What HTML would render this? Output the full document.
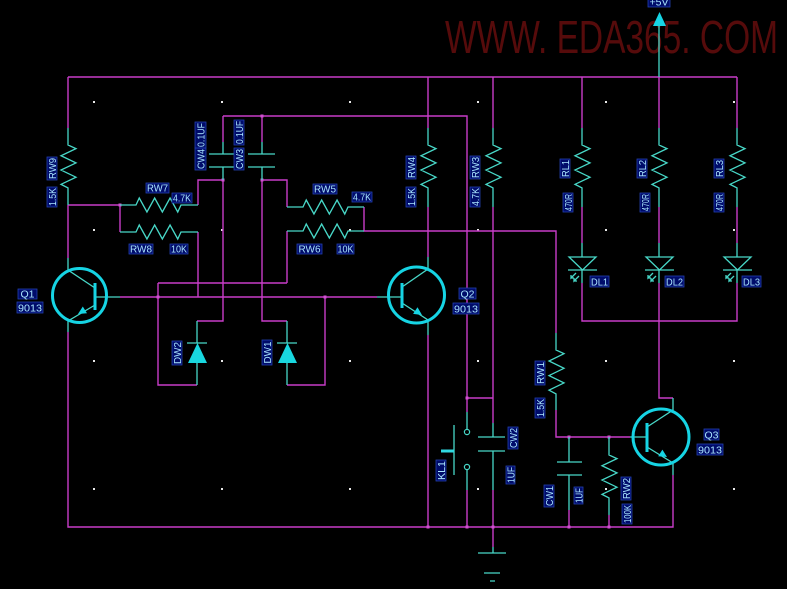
<!DOCTYPE html>
<html><head><meta charset="utf-8"><style>
html,body{margin:0;padding:0;background:#000;}
svg{display:block}
text{font-family:"Liberation Sans",sans-serif;}
.lb rect{fill:#000c6a;stroke:#2440b0;stroke-width:0.8}
.lb text{fill:#a8e4ff;font-size:10.5px}
</style></head><body>
<svg width="787" height="589" viewBox="0 0 787 589" xmlns="http://www.w3.org/2000/svg">
<rect width="787" height="589" fill="#000"/>
<!-- watermark -->
<text x="445" y="53" font-size="46" fill="#560b0b" textLength="333" lengthAdjust="spacingAndGlyphs">WWW. EDA365. COM</text>

<!-- grid dots -->
<g fill="#e8e8e8">
<rect x="93" y="101" width="2" height="2"/><rect x="221" y="101" width="2" height="2"/><rect x="349" y="101" width="2" height="2"/><rect x="477" y="101" width="2" height="2"/><rect x="605" y="101" width="2" height="2"/><rect x="733" y="101" width="2" height="2"/>
<rect x="93" y="229" width="2" height="2"/><rect x="221" y="229" width="2" height="2"/><rect x="349" y="229" width="2" height="2"/><rect x="477" y="229" width="2" height="2"/><rect x="605" y="229" width="2" height="2"/><rect x="733" y="229" width="2" height="2"/>
<rect x="93" y="360" width="2" height="2"/><rect x="221" y="360" width="2" height="2"/><rect x="349" y="360" width="2" height="2"/><rect x="477" y="360" width="2" height="2"/><rect x="605" y="360" width="2" height="2"/><rect x="733" y="360" width="2" height="2"/>
<rect x="93" y="488" width="2" height="2"/><rect x="221" y="488" width="2" height="2"/><rect x="349" y="488" width="2" height="2"/><rect x="477" y="488" width="2" height="2"/><rect x="605" y="488" width="2" height="2"/><rect x="733" y="488" width="2" height="2"/>
</g>

<!-- magenta wires -->
<path fill="none" stroke="#c83cc8" stroke-width="1.4" d="
M68,77 H737
M68,77 V128
M68,205 V258
M68,205 H120 V232
M198,205 V180 H223
M198,232 V297
M120,297 H377
M158,283 H287
M158,283 V385 H197
M223,116 V142
M223,180 V321 H197
M223,116 H467 V398 H493
M262,116 V142
M262,180 H287 V207
M262,180 V321 H287
M287,231 V283
M325,297 V385 H287
M364,207 V231 H556 V333
M467,398 V412
M467,490 V527
M493,77 V128
M493,207 V423
M493,490 V547
M428,77 V128
M428,207 V257
M428,335 V527
M68,332 V527 H673 V475
M556,410 V437 H630
M569,510 V527
M609,515 V527
M582,77 V128
M582,207 V243
M582,283 V321 H737 V283
M737,77 V128
M737,207 V243
M659,77 V128
M659,207 V243
M659,283 V398 H673
"/>

<!-- junction dots -->
<g fill="#d050d0">
<rect x="118.5" y="203.5" width="3" height="3"/><rect x="260.5" y="114.5" width="3" height="3"/><rect x="156.5" y="295.5" width="3" height="3"/><rect x="323.5" y="295.5" width="3" height="3"/><rect x="465.5" y="396.5" width="3" height="3"/><rect x="567.5" y="435.5" width="3" height="3"/><rect x="607.5" y="435.5" width="3" height="3"/><rect x="426.5" y="525.5" width="3" height="3"/><rect x="465.5" y="525.5" width="3" height="3"/><rect x="491.5" y="525.5" width="3" height="3"/><rect x="567.5" y="525.5" width="3" height="3"/><rect x="607.5" y="525.5" width="3" height="3"/><rect x="221.5" y="178.5" width="3" height="3"/><rect x="260.5" y="178.5" width="3" height="3"/>
</g>

<!-- teal component lines -->
<path fill="none" stroke="#48d8c8" stroke-width="1.3" stroke-linejoin="miter" d="
M68,128 V145 l8,3.6 l-15,7.15 l15,7.15 l-15,7.15 l15,7.15 l-15,7.15 l7,3.6 V205
M428,128 V145 l8,3.6 l-15,7.15 l15,7.15 l-15,7.15 l15,7.15 l-15,7.15 l7,3.6 V207
M493,128 V145 l8,3.6 l-15,7.15 l15,7.15 l-15,7.15 l15,7.15 l-15,7.15 l7,3.6 V207
M582,128 V145 l8,3.6 l-15,7.15 l15,7.15 l-15,7.15 l15,7.15 l-15,7.15 l7,3.6 V207
M659,128 V145 l8,3.6 l-15,7.15 l15,7.15 l-15,7.15 l15,7.15 l-15,7.15 l7,3.6 V207
M737,128 V145 l8,3.6 l-15,7.15 l15,7.15 l-15,7.15 l15,7.15 l-15,7.15 l7,3.6 V207
M556,333 V350 l8,3.7 l-15,7.3 l15,7.3 l-15,7.3 l15,7.3 l-15,7.3 l7,3.7 V410
M609,437 V455 l8,3.6 l-15,7.15 l15,7.15 l-15,7.15 l15,7.15 l-15,7.15 l7,3.6 V515
M120,205 H136 l3.25,-7 l7.7,14 l7.7,-14 l7.7,14 l7.7,-14 l7.7,14 l3.25,-7 H198
M120,232 H136 l3.25,-7 l7.7,14 l7.7,-14 l7.7,14 l7.7,-14 l7.7,14 l3.25,-7 H198
M287,207 H303 l3.25,-7 l7.7,14 l7.7,-14 l7.7,14 l7.7,-14 l7.7,14 l3.25,-7 H364
M287,231 H303 l3.25,-7 l7.7,14 l7.7,-14 l7.7,14 l7.7,-14 l7.7,14 l3.25,-7 H364
M659,26 V77
M582,243 V257 M569,257 H596 L582.5,270 Z M568,270 H597 M582,270 V283
M659,243 V257 M646,257 H673 L659.5,270 Z M645,270 H674 M659,270 V283
M737,243 V257 M724,257 H751 L737.5,270 Z M723,270 H752 M737,270 V283
M576,273 l-5,5 l0,-3 m0,3 l3,0 M579,276 l-5,5 l0,-3 m0,3 l3,0
M653,273 l-5,5 l0,-3 m0,3 l3,0 M656,276 l-5,5 l0,-3 m0,3 l3,0
M731,273 l-5,5 l0,-3 m0,3 l3,0 M734,276 l-5,5 l0,-3 m0,3 l3,0
M223,142 V154 M209,154 H235 M209,167 H235 M223,167 V180
M262,142 V154 M248,154 H275 M248,167 H275 M262,167 V180
M493,423 V437 M478,437 H505 M478,451 H505 M493,451 V490
M569,437 V462 M557,462 H582 M557,475 H582 M569,475 V510
M197,385 V363 M197,343 V321 M187,343 H207
M287,385 V363 M287,343 V321 M277,343 H297
M467,412 V429.5 M467,469.5 V490 M454,425 V475
M493,547 V553 M478,553 H506 M484,573 H500 M490,581 H495
M95,297 H120 M377,297 H402 M630,437 H647
M95,288 L68,270 V258 M95,305 L68,321 V332
M402,287 L428,269 V257 M402,303 L428,320 V335
M647,427 L673,410 V398 M647,447 L673,463 V475
"/>
<circle cx="467" cy="432" r="2.6" fill="none" stroke="#48d8c8" stroke-width="1.2"/>
<circle cx="467" cy="467" r="2.6" fill="none" stroke="#48d8c8" stroke-width="1.2"/>
<path d="M441,451 H454" stroke="#30d8e0" stroke-width="3"/>

<!-- diodes filled -->
<polygon points="188,363 207,363 197.5,343" fill="#18d8e0"/>
<polygon points="278,363 297,363 287.5,343" fill="#18d8e0"/>

<!-- transistors -->
<g fill="none" stroke="#16d4e4" stroke-width="3">
<circle cx="79.5" cy="295.5" r="27"/>
<circle cx="416.5" cy="295" r="28"/>
<circle cx="661" cy="437" r="28"/>
<path d="M95,283 V310 M402,283 V308 M647,423 V452"/>
</g>
<g fill="#16d4e4">
<polygon points="78,314 87,313.3 82.8,306.5"/>
<polygon points="422,315 413.1,313.9 417.5,307.3"/>
<polygon points="667,457 658.2,456.2 662.4,449.6"/>
<polygon points="659.5,12 653,26 666,26"/>
</g>

<!-- horizontal labels -->
<g class="lb">
<rect x="18" y="289" width="19" height="10"/><text x="27.5" y="297.5" text-anchor="middle">Q1</text>
<rect x="17" y="302" width="26" height="11"/><text x="30" y="311.5" text-anchor="middle" textLength="24" lengthAdjust="spacingAndGlyphs">9013</text>
<rect x="459" y="288" width="17" height="11"/><text x="467.5" y="297.5" text-anchor="middle">Q2</text>
<rect x="453" y="303" width="26" height="11"/><text x="466" y="312.5" text-anchor="middle" textLength="24" lengthAdjust="spacingAndGlyphs">9013</text>
<rect x="704" y="429" width="15" height="11"/><text x="711.5" y="438.5" text-anchor="middle">Q3</text>
<rect x="697" y="444" width="26" height="11"/><text x="710" y="453.5" text-anchor="middle" textLength="24" lengthAdjust="spacingAndGlyphs">9013</text>
<rect x="146" y="183" width="23" height="10"/><text x="157.5" y="191.5" text-anchor="middle" textLength="21" lengthAdjust="spacingAndGlyphs">RW7</text>
<rect x="172" y="193" width="20" height="10"/><text x="182" y="201.5" text-anchor="middle" textLength="18" lengthAdjust="spacingAndGlyphs">4.7K</text>
<rect x="129" y="244" width="24" height="10"/><text x="141" y="252.5" text-anchor="middle" textLength="22" lengthAdjust="spacingAndGlyphs">RW8</text>
<rect x="170" y="244" width="18" height="10"/><text x="179" y="252.5" text-anchor="middle" textLength="16" lengthAdjust="spacingAndGlyphs">10K</text>
<rect x="313" y="184" width="24" height="10"/><text x="325" y="192.5" text-anchor="middle" textLength="22" lengthAdjust="spacingAndGlyphs">RW5</text>
<rect x="352" y="192" width="20" height="10"/><text x="362" y="200.5" text-anchor="middle" textLength="18" lengthAdjust="spacingAndGlyphs">4.7K</text>
<rect x="297" y="244" width="25" height="10"/><text x="309.5" y="252.5" text-anchor="middle" textLength="22" lengthAdjust="spacingAndGlyphs">RW6</text>
<rect x="337" y="244" width="17" height="10"/><text x="345.5" y="252.5" text-anchor="middle" textLength="16" lengthAdjust="spacingAndGlyphs">10K</text>
<rect x="590" y="276" width="19" height="11"/><text x="599.5" y="285.5" text-anchor="middle" textLength="17" lengthAdjust="spacingAndGlyphs">DL1</text>
<rect x="665" y="276" width="19" height="11"/><text x="674.5" y="285.5" text-anchor="middle" textLength="17" lengthAdjust="spacingAndGlyphs">DL2</text>
<rect x="742" y="276" width="19" height="11"/><text x="751.5" y="285.5" text-anchor="middle" textLength="17" lengthAdjust="spacingAndGlyphs">DL3</text>
<rect x="648" y="-3" width="22" height="10"/><text x="659" y="5.5" text-anchor="middle" textLength="19" lengthAdjust="spacingAndGlyphs">+5V</text>
</g>

<!-- rotated labels -->
<g class="lb">
<rect x="47" y="157" width="10" height="23"/><text transform="translate(52,168.5) rotate(-90)" y="4" text-anchor="middle" textLength="21" lengthAdjust="spacingAndGlyphs">RW9</text>
<rect x="47" y="187" width="10" height="20"/><text transform="translate(52,197) rotate(-90)" y="4" text-anchor="middle" textLength="18" lengthAdjust="spacingAndGlyphs">1.5K</text>
<rect x="195" y="148" width="11" height="22"/><text transform="translate(200.5,159) rotate(-90)" y="4" text-anchor="middle" textLength="20" lengthAdjust="spacingAndGlyphs">CW4</text>
<rect x="195" y="122" width="11" height="26"/><text transform="translate(200.5,135) rotate(-90)" y="4" text-anchor="middle" textLength="24" lengthAdjust="spacingAndGlyphs">0.1UF</text>
<rect x="234" y="148" width="10" height="22"/><text transform="translate(239,159) rotate(-90)" y="4" text-anchor="middle" textLength="20" lengthAdjust="spacingAndGlyphs">CW3</text>
<rect x="234" y="120" width="10" height="25"/><text transform="translate(239,132.5) rotate(-90)" y="4" text-anchor="middle" textLength="23" lengthAdjust="spacingAndGlyphs">0.1UF</text>
<rect x="406" y="156" width="10" height="23"/><text transform="translate(411,167.5) rotate(-90)" y="4" text-anchor="middle" textLength="21" lengthAdjust="spacingAndGlyphs">RW4</text>
<rect x="406" y="187" width="10" height="20"/><text transform="translate(411,197) rotate(-90)" y="4" text-anchor="middle" textLength="18" lengthAdjust="spacingAndGlyphs">1.5K</text>
<rect x="470" y="156" width="10" height="23"/><text transform="translate(475,167.5) rotate(-90)" y="4" text-anchor="middle" textLength="21" lengthAdjust="spacingAndGlyphs">RW3</text>
<rect x="470" y="187" width="10" height="20"/><text transform="translate(475,197) rotate(-90)" y="4" text-anchor="middle" textLength="18" lengthAdjust="spacingAndGlyphs">4.7K</text>
<rect x="560" y="159" width="10" height="19"/><text transform="translate(565,168.5) rotate(-90)" y="4" text-anchor="middle" textLength="17" lengthAdjust="spacingAndGlyphs">RL1</text>
<rect x="563" y="193" width="10" height="19"/><text transform="translate(568,202.5) rotate(-90)" y="4" text-anchor="middle" textLength="17" lengthAdjust="spacingAndGlyphs">470R</text>
<rect x="637" y="159" width="10" height="19"/><text transform="translate(642,168.5) rotate(-90)" y="4" text-anchor="middle" textLength="17" lengthAdjust="spacingAndGlyphs">RL2</text>
<rect x="640" y="193" width="10" height="19"/><text transform="translate(645,202.5) rotate(-90)" y="4" text-anchor="middle" textLength="17" lengthAdjust="spacingAndGlyphs">470R</text>
<rect x="714" y="159" width="10" height="19"/><text transform="translate(719,168.5) rotate(-90)" y="4" text-anchor="middle" textLength="17" lengthAdjust="spacingAndGlyphs">RL3</text>
<rect x="714" y="193" width="10" height="19"/><text transform="translate(719,202.5) rotate(-90)" y="4" text-anchor="middle" textLength="17" lengthAdjust="spacingAndGlyphs">470R</text>
<rect x="172" y="341" width="10" height="24"/><text transform="translate(177,353) rotate(-90)" y="4" text-anchor="middle" textLength="22" lengthAdjust="spacingAndGlyphs">DW2</text>
<rect x="262" y="340" width="10" height="25"/><text transform="translate(267,352.5) rotate(-90)" y="4" text-anchor="middle" textLength="22" lengthAdjust="spacingAndGlyphs">DW1</text>
<rect x="535" y="361" width="10" height="24"/><text transform="translate(540,373) rotate(-90)" y="4" text-anchor="middle" textLength="22" lengthAdjust="spacingAndGlyphs">RW1</text>
<rect x="535" y="398" width="10" height="20"/><text transform="translate(540,408) rotate(-90)" y="4" text-anchor="middle" textLength="18" lengthAdjust="spacingAndGlyphs">1.5K</text>
<rect x="436" y="460" width="10" height="21"/><text transform="translate(441,470.5) rotate(-90)" y="4" text-anchor="middle" textLength="19" lengthAdjust="spacingAndGlyphs">KL1</text>
<rect x="508" y="427" width="10" height="22"/><text transform="translate(513,438) rotate(-90)" y="4" text-anchor="middle" textLength="20" lengthAdjust="spacingAndGlyphs">CW2</text>
<rect x="506" y="466" width="9" height="18"/><text transform="translate(510.5,475) rotate(-90)" y="4" text-anchor="middle" textLength="16" lengthAdjust="spacingAndGlyphs">1UF</text>
<rect x="544" y="485" width="10" height="22"/><text transform="translate(549,496) rotate(-90)" y="4" text-anchor="middle" textLength="20" lengthAdjust="spacingAndGlyphs">CW1</text>
<rect x="574" y="487" width="9" height="17"/><text transform="translate(578.5,495.5) rotate(-90)" y="4" text-anchor="middle" textLength="15" lengthAdjust="spacingAndGlyphs">1UF</text>
<rect x="621" y="477" width="10" height="23"/><text transform="translate(626,488.5) rotate(-90)" y="4" text-anchor="middle" textLength="21" lengthAdjust="spacingAndGlyphs">RW2</text>
<rect x="622" y="504" width="10" height="20"/><text transform="translate(627,514) rotate(-90)" y="4" text-anchor="middle" textLength="18" lengthAdjust="spacingAndGlyphs">100K</text>
</g>
</svg>
</body></html>
